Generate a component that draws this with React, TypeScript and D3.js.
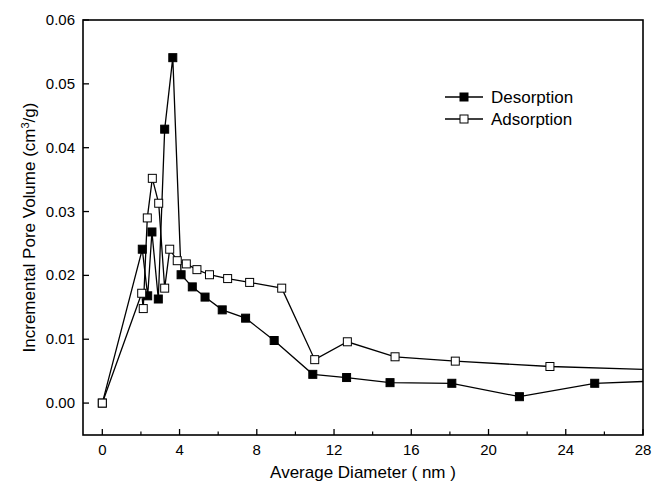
import React, { useEffect } from 'react';
import * as d3 from 'd3';

// Desorption (filled squares)
const desX = [0, 2.07, 2.35, 2.57, 2.9, 3.23, 3.65, 4.08, 4.66, 5.32, 6.21, 7.42, 8.9, 10.9, 12.65, 14.9, 18.1, 21.6, 25.5, 30];
const desY = [0, 0.0241, 0.0168, 0.0268, 0.0163, 0.0429, 0.0541, 0.0201, 0.0182, 0.0166, 0.0146, 0.0133, 0.0098, 0.0045, 0.004, 0.0032, 0.0031, 0.001, 0.0031, 0.0036];
// Adsorption (open squares)
const adsX = [0, 2.04, 2.12, 2.33, 2.59, 2.92, 3.23, 3.49, 3.88, 4.35, 4.9, 5.55, 6.49, 7.63, 9.29, 11.0, 12.69, 15.16, 18.28, 23.18, 30];
const adsY = [0, 0.0172, 0.0148, 0.029, 0.0352, 0.0313, 0.018, 0.0241, 0.0223, 0.0218, 0.0209, 0.0201, 0.0195, 0.0189, 0.018, 0.0068, 0.0096, 0.00725, 0.00657, 0.00573, 0.0051];

const xTicks = [0, 4, 8, 12, 16, 20, 24, 28];
const xMinor = [2, 6, 10, 14, 18, 22, 26];
const yTicks = [0, 0.01, 0.02, 0.03, 0.04, 0.05, 0.06];

const font = '"Liberation Sans", Arial, sans-serif';

export default function App() {
  useEffect(() => {
    document.body.style.margin = '0';
  }, []);

  const width = 654;
  const height = 492;
  const x = d3.scaleLinear().domain([-1, 28]).range([83, 643]);
  const y = d3.scaleLinear().domain([-0.005, 0.06]).range([435, 20]);
  const [x0, x1] = x.range();
  const [y0, y1] = y.range();

  const pathFor = (xs: number[], ys: number[]) =>
    d3.line<number>().x(i => x(xs[i])).y(i => y(ys[i]))(d3.range(xs.length)) || '';

  const sq = 8;

  // legend
  const lgX = 445;
  const lgRows = [
    { label: 'Desorption', fill: '#000', y: 97 },
    { label: 'Adsorption', fill: '#fff', y: 119 },
  ];

  return (
    <svg width={width} height={height} style={{ display: 'block', background: '#fff' }}>
      <defs>
        <clipPath id="plot-clip">
          <rect x={x0} y={y1} width={x1 - x0} height={y0 - y1} />
        </clipPath>
      </defs>

      <g clipPath="url(#plot-clip)">
        <path d={pathFor(desX, desY)} fill="none" stroke="#000" strokeWidth={1.3} />
        <path d={pathFor(adsX, adsY)} fill="none" stroke="#000" strokeWidth={1.3} />
        {desX.map((d, i) => (
          <rect key={'d' + i} x={x(d) - sq / 2} y={y(desY[i]) - sq / 2} width={sq} height={sq}
            fill="#000" stroke="#000" strokeWidth={1} />
        ))}
        {adsX.map((d, i) => (
          <rect key={'a' + i} x={x(d) - sq / 2} y={y(adsY[i]) - sq / 2} width={sq} height={sq}
            fill="#fff" stroke="#000" strokeWidth={1} />
        ))}
      </g>

      {/* frame */}
      <rect x={x0} y={y1} width={x1 - x0} height={y0 - y1} fill="none" stroke="#000" strokeWidth={1.6} />

      {/* x ticks */}
      {xTicks.map(t => (
        <g key={'xt' + t}>
          <line x1={x(t)} x2={x(t)} y1={y0} y2={y0 - 6} stroke="#000" strokeWidth={1.3} />
          <text x={x(t)} y={y0 + 20} textAnchor="middle" fontFamily={font} fontSize={15}>{t}</text>
        </g>
      ))}
      {xMinor.map(t => (
        <line key={'xm' + t} x1={x(t)} x2={x(t)} y1={y0} y2={y0 - 3.5} stroke="#000" strokeWidth={1.2} />
      ))}

      {/* y ticks */}
      {yTicks.map(t => (
        <g key={'yt' + t}>
          <line x1={x0} x2={x0 + 6} y1={y(t)} y2={y(t)} stroke="#000" strokeWidth={1.3} />
          <text x={x0 - 8} y={y(t) + 5} textAnchor="end" fontFamily={font} fontSize={15}>{d3.format('.2f')(t)}</text>
        </g>
      ))}

      {/* axis titles */}
      <text x={(x0 + x1) / 2} y={478} textAnchor="middle" fontFamily={font} fontSize={17}>
        Average Diameter ( nm  )
      </text>
      <text transform={`translate(35,${(y0 + y1) / 2}) rotate(-90)`} textAnchor="middle" fontFamily={font} fontSize={17}>
        Incremental Pore Volume (cm<tspan dy={-6} fontSize={11}>3</tspan><tspan dy={6}>/g)</tspan>
      </text>

      {/* legend */}
      {lgRows.map(r => (
        <g key={r.label}>
          <line x1={lgX} x2={lgX + 38} y1={r.y} y2={r.y} stroke="#000" strokeWidth={1.3} />
          <rect x={lgX + 19 - sq / 2} y={r.y - sq / 2} width={sq} height={sq} fill={r.fill} stroke="#000" strokeWidth={1} />
          <text x={lgX + 46} y={r.y + 6} fontFamily={font} fontSize={17}>{r.label}</text>
        </g>
      ))}
    </svg>
  );
}
